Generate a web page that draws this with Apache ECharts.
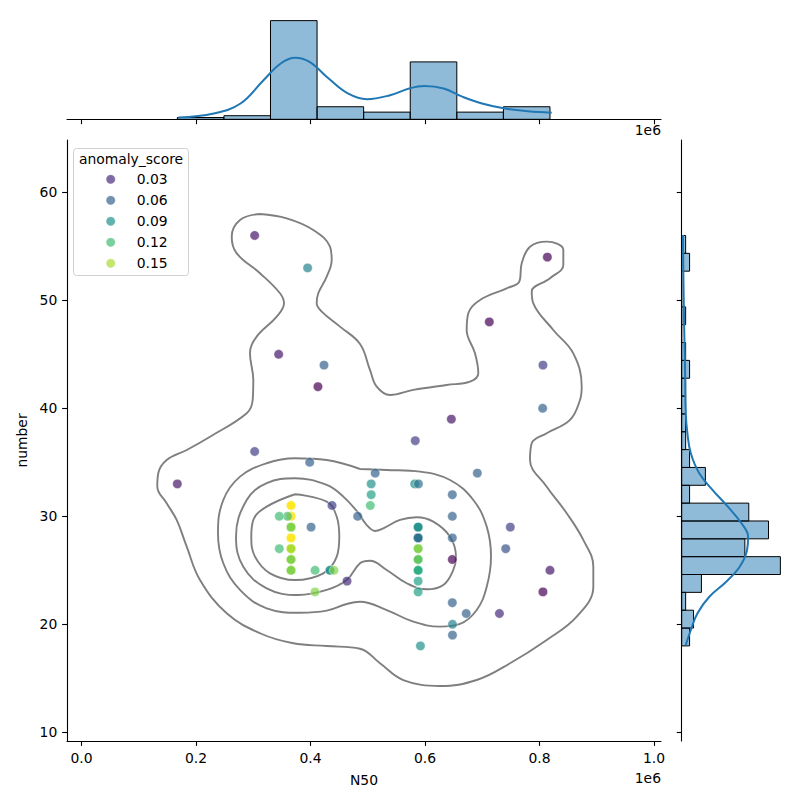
<!DOCTYPE html>
<html><head><meta charset="utf-8">
<script src="https://cdn.jsdelivr.net/npm/echarts@6/dist/echarts.min.js"></script>
<style>html,body{margin:0;padding:0;background:#fff}#c{width:800px;height:800px}</style>
</head><body><div id="c"></div>
<script>
// ---------- DATA ----------
const ptN50    = [302500,395000,344400,423600,413000,813700,712300,806000,805500,646000,583000,302500,398600,167400,437600,482500,
                  366000,366000,366000,366000,366000,366000,366000,360000,345500,345500,401000,408000,434000,441000,463800,408000,
                  513000,691400,506000,582000,588500,647700,506000,504500,647700,749000,588000,588000,647700,741000,588000,588000,
                  647700,588000,818300,588000,806000,588000,647700,672000,730000,648000,648000,592000];
const ptNumber = [56,53,45,44,42,54,48,44,40,39,37,36,35,33,31,30,
                  31,30,29,28,27,26,25,30,30,27,29,25,25,25,24,23,
                  34,34,33,33,33,32,32,31,30,29,29,28,28,27,27,26,
                  26,25,25,24,23,23,22,21,21,20,19,18];
const ptScore  = [0.02,0.08,0.02,0.06,0.01,0.01,0.01,0.04,0.06,0.02,0.04,0.04,0.06,0.02,0.04,0.06,
                  0.17,0.17,0.14,0.17,0.15,0.14,0.14,0.12,0.12,0.12,0.06,0.12,0.09,0.14,0.03,0.14,
                  0.06,0.06,0.09,0.09,0.07,0.06,0.10,0.12,0.06,0.04,0.09,0.07,0.06,0.05,0.14,0.13,
                  0.01,0.11,0.02,0.10,0.01,0.10,0.06,0.06,0.03,0.08,0.06,0.09];
const ptCount  = [1,1,1,1,1,1,1,1,1,1,1,1,1,1,1,1,
                  5,6,5,6,11,6,6,1,1,1,1,1,2,1,1,1,
                  1,1,1,1,1,1,1,1,1,1,3,5,1,1,3,4,
                  1,3,1,1,1,1,1,1,1,1,1,1];

const legendScores = [0.03,0.06,0.09,0.12,0.15];
const xTickValues = [0,200000,400000,600000,800000,1000000];
const yTickValues = [10,20,30,40,50,60];

const n50HistStart = 167400, n50HistWidth = 81362;
const n50HistCounts = [1,2,55,7,4,32,4,7];
const numberHistStart = 18, numberHistWidth = 38/23;
const numberHistCounts = [2,3,1,5,25,16,22,17,2,6,2,1,1,1,1,2,1,0,1,0,0,2,1];

const n50KdeX     = [169300,230900,277800,317900,348000,372800,398300,431700,465200,498700,538800,572300,599100,632500,666000,699500,739600,779800,821300];
const n50KdeCount = [0.95,3.2,8.8,21.8,31.1,34.3,32.0,22.7,14.4,11.2,13.4,17.2,18.6,17.2,12.5,8.8,6.0,4.5,3.7];
const numberKdeY     = [18.08,19.47,21.02,22.55,23.94,25.33,26.88,28.11,29.35,30.89,32.43,33.98,35.83,37.69,39.54,43.55,48.18,52.81,56.05];
const numberKdeCount = [1.03,2.31,4.0,7.0,11.28,14.69,16.56,16.82,15.13,11.69,7.85,4.44,2.31,1.44,1.03,0.85,0.59,0.41,0.33];

const contour1X = [311800,358400,404900,434100,437000,428300,413600,410800,419600,451500,486500,503900,515600,538900,579600,637900,678600,693100,687300,672800,675600,696100,742700,764700,768900,783400,812600,841600,841600,818300,786400,789200,824100,859000,873700,870700,853300,812600,786400,783400,812600,847500,876500,894000,894000,865000,812600,748500,690300,626200,562100,521400,486500,428300,370000,311800,253600,207000,183800,166300,148800,132400,134100,148800,183800,224500,288600,299000,300100,294300,306000,341000,353700,346700,311800,271100,262400,276900,311800];
const contour1Y = [57.99,57.59,56.51,54.96,53.73,52.19,50.65,49.72,48.95,47.56,45.95,43.55,42.0,41.23,41.7,42.16,42.46,43.24,45.09,47.25,48.8,50.03,51.11,51.72,53.43,54.96,55.43,54.66,53.27,52.04,50.8,49.72,47.25,45.09,42.0,40.77,38.92,37.69,36.76,35.21,32.74,30.28,27.81,25.33,23.48,20.7,18.55,16.39,14.84,14.29,14.84,16.39,17.74,17.99,18.24,19.17,21.02,24.1,27.19,29.66,31.2,32.74,33.98,35.21,36.14,37.37,39.54,40.77,42.62,45.09,46.63,48.48,49.72,50.65,52.5,54.35,55.89,57.44,57.99];
const contour2X = [486500,428300,372900,323500,276900,247700,238400,247700,276900,323500,381700,428300,463200,486500,533100,579600,626200,661100,690300,707800,715300,707800,684400,643700,591300,533100,486500];
const contour2Y = [34.38,35.21,35.37,34.91,33.67,31.51,28.43,25.65,23.18,21.48,21.07,21.26,21.88,22.09,21.32,20.24,19.78,20.03,21.32,23.48,26.26,29.04,31.51,33.36,34.13,34.29,34.38];
const contour3X = [486500,457300,428300,372900,323500,288600,269900,282600,323500,378700,428300,463200,486500,503900,533100,568000,603000,632000,649400,654100,643700,614500,585500,556300,527200,512700,498200,486500];
const contour3Y = [30.12,31.82,32.9,33.52,33.06,31.51,28.11,25.33,23.33,22.71,23.18,24.1,25.65,25.89,25.03,23.8,23.24,23.64,25.03,26.26,28.11,29.5,29.91,29.66,28.89,28.64,29.19,30.12];
const contour4X = [372900,428300,445800,450300,445800,422400,372900,329300,303100,296600,300100,323500,372900];
const contour4Y = [32.04,31.35,29.96,28.11,26.26,24.72,24.1,24.72,26.26,28.11,29.66,30.89,32.04];

// ---------- STYLE ----------
const FONT = 'DejaVu Sans';
const FS = 13.9;
const viridis = ['#440154','#482475','#414487','#355f8d','#2a788e','#21918c','#22a884','#44bf70','#7ad151','#bddf26','#fde725'];
const scoreMin = 0.01, scoreMax = 0.17;
function viridisAt(v){
  let t = Math.max(0, Math.min(1, (v - scoreMin)/(scoreMax - scoreMin))) * (viridis.length-1);
  const i = Math.min(Math.floor(t), viridis.length-2), f = t - i;
  const a = viridis[i], b = viridis[i+1];
  const ch = (h,k)=>parseInt(h.substr(1+2*k,2),16);
  const c = [0,1,2].map(k=>Math.round(ch(a,k)*(1-f)+ch(b,k)*f));
  return 'rgb('+c.join(',')+')';
}

const X_MIN = -25300, X_MAX = 1012200, Y_MIN = 9.194, Y_MAX = 64.84;

const scatterData = [];
ptN50.forEach((x,i)=>{ for(let k=0;k<ptCount[i];k++) scatterData.push([x, ptNumber[i], ptScore[i]]); });

const zip = (a,b)=>a.map((v,i)=>[v,b[i]]);
const contourStyle = {color:'#7f7f7f', width:1.9};
function contourSeries(xs, ys){
  return {type:'line', xAxisIndex:0, yAxisIndex:0, data:zip(xs,ys), smooth:0.4, showSymbol:false,
          lineStyle:contourStyle, silent:true, z:2};
}

const axisLineStyle = {show:true, onZero:false, lineStyle:{color:'#000', width:1.1}};
const tickStyle = (vals)=>({show:true, inside:false, length:4.9, lineStyle:{color:'#000', width:1.1}, customValues:vals});

const legendGraphics = [
  {type:'rect', shape:{x:73.5, y:148.5, width:115, height:127, r:3}, style:{fill:'rgba(255,255,255,0.8)', stroke:'#d0d0d0', lineWidth:1}, z:100},
  {type:'text', x:131, y:158.5, style:{text:'anomaly_score', font:FS+'px "'+FONT+'"', fill:'#000', align:'center', verticalAlign:'middle'}, z:101}
];
legendScores.forEach((s,i)=>{
  const cy = 179.3 + 21*i;
  legendGraphics.push({type:'circle', shape:{cx:110.7, cy:cy, r:4.6}, style:{fill:viridisAt(s), opacity:0.7, stroke:'#fff', lineWidth:0.5}, z:101});
  legendGraphics.push({type:'text', x:136.7, y:cy, style:{text:s.toFixed(2), font:FS+'px "'+FONT+'"', fill:'#000', align:'left', verticalAlign:'middle'}, z:101});
});

const option = {
  animation:false,
  backgroundColor:'#fff',
  textStyle:{fontFamily:FONT},
  grid:[
    {left:67, top:140, width:594, height:601},
    {left:67, top:15.7, width:594, height:103.6},
    {left:681.7, top:140, width:103.6, height:601}
  ],
  xAxis:[
    {gridIndex:0, type:'value', min:X_MIN, max:X_MAX, axisLine:axisLineStyle, axisTick:tickStyle(xTickValues),
     axisLabel:{show:true, customValues:xTickValues, margin:9.7, fontSize:FS, color:'#000', fontFamily:FONT, formatter:v=>(v/1e6).toFixed(1)},
     splitLine:{show:false}, name:'N50', nameLocation:'middle', nameGap:31.5, nameTextStyle:{fontSize:FS, color:'#000', fontFamily:FONT, verticalAlign:'top'}},
    {gridIndex:1, type:'value', min:X_MIN, max:X_MAX, axisLine:axisLineStyle, axisTick:tickStyle(xTickValues),
     axisLabel:{show:false}, splitLine:{show:false}},
    {gridIndex:2, type:'value', min:0, max:26.25, show:false, splitLine:{show:false}}
  ],
  yAxis:[
    {gridIndex:0, type:'value', min:Y_MIN, max:Y_MAX, axisLine:axisLineStyle, axisTick:tickStyle(yTickValues),
     axisLabel:{show:true, customValues:yTickValues, margin:9.7, fontSize:FS, color:'#000', fontFamily:FONT},
     splitLine:{show:false}, name:'number', nameLocation:'middle', nameGap:34, nameRotate:90, nameTextStyle:{fontSize:FS, color:'#000', fontFamily:FONT}},
    {gridIndex:1, type:'value', min:0, max:57.75, show:false, splitLine:{show:false}},
    {gridIndex:2, type:'value', min:Y_MIN, max:Y_MAX, axisLine:axisLineStyle, axisTick:tickStyle(yTickValues),
     axisLabel:{show:false}, splitLine:{show:false}}
  ],
  visualMap:[{type:'continuous', show:false, seriesIndex:4, dimension:2, min:scoreMin, max:scoreMax, inRange:{color:viridis}}],
  series:[
    contourSeries(contour1X, contour1Y),
    contourSeries(contour2X, contour2Y),
    contourSeries(contour3X, contour3Y),
    contourSeries(contour4X, contour4Y),
    {type:'scatter', xAxisIndex:0, yAxisIndex:0, data:scatterData, symbolSize:9.4,
     itemStyle:{opacity:0.7, borderColor:'#fff', borderWidth:0.6}, z:5, silent:true},
    {type:'custom', xAxisIndex:1, yAxisIndex:1,
     data:n50HistCounts.map((c,i)=>[n50HistStart+i*n50HistWidth, n50HistStart+(i+1)*n50HistWidth, c]),
     encode:{x:[0,1], y:2},
     renderItem:(params, api)=>{
       const p0 = api.coord([api.value(0), 0]), p1 = api.coord([api.value(1), api.value(2)]);
       return {type:'rect', shape:{x:p0[0], y:p1[1], width:p1[0]-p0[0], height:p0[1]-p1[1]},
               style:{fill:'rgba(31,119,180,0.5)', stroke:'#000', lineWidth:1}};
     }, z:2, silent:true},
    {type:'line', xAxisIndex:1, yAxisIndex:1, data:zip(n50KdeX, n50KdeCount), smooth:0.4, showSymbol:false,
     lineStyle:{color:'#1f77b4', width:2}, z:3, silent:true},
    {type:'custom', xAxisIndex:2, yAxisIndex:2,
     data:numberHistCounts.map((c,i)=>[numberHistStart+i*numberHistWidth, numberHistStart+(i+1)*numberHistWidth, c]),
     encode:{x:2, y:[0,1]},
     renderItem:(params, api)=>{
       const p0 = api.coord([0, api.value(0)]), p1 = api.coord([api.value(2), api.value(1)]);
       return {type:'rect', shape:{x:p0[0], y:p1[1], width:p1[0]-p0[0], height:p0[1]-p1[1]},
               style:{fill:'rgba(31,119,180,0.5)', stroke:'#000', lineWidth:1}};
     }, z:2, silent:true},
    {type:'line', xAxisIndex:2, yAxisIndex:2, data:zip(numberKdeCount, numberKdeY), smooth:0.4, showSymbol:false,
     lineStyle:{color:'#1f77b4', width:2}, z:3, silent:true}
  ],
  graphic:[
    {type:'text', x:661, y:778, style:{text:'1e6', font:FS+'px "'+FONT+'"', fill:'#000', align:'right', verticalAlign:'middle'}},
    {type:'text', x:661, y:130, style:{text:'1e6', font:FS+'px "'+FONT+'"', fill:'#000', align:'right', verticalAlign:'middle'}}
  ].concat(legendGraphics)
};

const chart = echarts.init(document.getElementById('c'), null, {renderer:'svg', width:800, height:800});
chart.setOption(option);
</script>
</body></html>
